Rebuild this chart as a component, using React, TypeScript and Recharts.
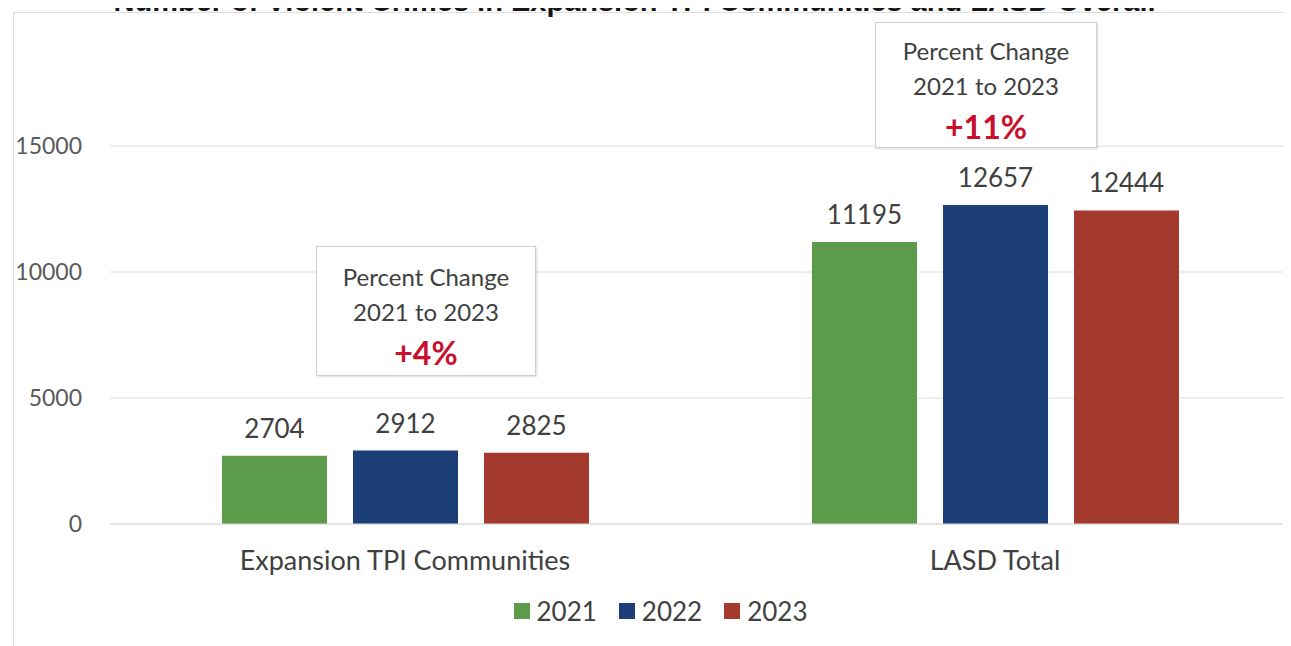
import React from "react";
import { Bar, BarChart, CartesianGrid, LabelList, Legend, XAxis, YAxis } from "recharts";

const CATEGORIES = ["Expansion TPI Communities", "LASD Total"];
const YEARS = ["2021", "2022", "2023"];
const CRIMES_2021 = [2704, 11195];
const CRIMES_2022 = [2912, 12657];
const CRIMES_2023 = [2825, 12444];
const Y_TICKS = [0, 5000, 10000, 15000];
const PCT_CHANGE = ["+4%", "+11%"];

const COLORS = ["#5B9B49", "#1B3F76", "#A33A2D"];
const FONT = "Lato, 'Open Sans', sans-serif";
const GRID = "#dcdcdc";
const TEXT = "#404040";

const data = CATEGORIES.map((name, i) => ({
  name,
  y2021: CRIMES_2021[i],
  y2022: CRIMES_2022[i],
  y2023: CRIMES_2023[i],
}));

function LegendContent() {
  return (
    <div
      style={{
        height: 40,
        display: "flex",
        justifyContent: "center",
        alignItems: "center",
        gap: 22,
        fontFamily: FONT,
        fontSize: 26,
        color: TEXT,
      }}
    >
      {YEARS.map((y, i) => (
        <div key={y} style={{ display: "flex", alignItems: "center", gap: 7 }}>
          <span style={{ width: 16, height: 16, background: COLORS[i], display: "inline-block" }} />
          <span>{y}</span>
        </div>
      ))}
    </div>
  );
}

function ChangeBox({
  left,
  top,
  width,
  height,
  pad,
  pct,
}: {
  left: number;
  top: number;
  width: number;
  height: number;
  pad: number;
  pct: string;
}) {
  return (
    <div
      style={{
        position: "absolute",
        left,
        top,
        width,
        height,
        boxSizing: "border-box",
        border: "1px solid #cfcfcf",
        boxShadow: "1px 1px 2px rgba(0,0,0,0.15)",
        background: "#fff",
        fontFamily: FONT,
        color: TEXT,
        textAlign: "center",
        fontSize: 24,
        lineHeight: "35px",
        paddingTop: pad,
      }}
    >
      <div>Percent Change</div>
      <div>2021 to 2023</div>
      <div style={{ color: "#C8102E", fontWeight: 700, fontSize: 32, lineHeight: "48px" }}>{pct}</div>
    </div>
  );
}

export default function App() {
  return (
    <div style={{ position: "relative", width: 1283, height: 638 }}>
      <div
        style={{
          position: "absolute",
          left: 5,
          top: 4,
          width: 1290,
          height: 640,
          border: "1px solid #dedede",
          boxSizing: "border-box",
        }}
      />
      <BarChart
        width={1283}
        height={638}
        data={data}
        margin={{ top: 12, right: 1, bottom: 15, left: 0 }}
        barSize={105}
        barGap={26}
        style={{ position: "absolute", left: 0, top: 0 }}
      >
        <CartesianGrid stroke={GRID} vertical={false} horizontalValues={Y_TICKS} />
        <XAxis
          dataKey="name"
          height={67}
          tickSize={0}
          tickMargin={27}
          axisLine={{ stroke: GRID }}
          tick={{ fontSize: 27, fill: TEXT, fontFamily: FONT }}
        />
        <YAxis
          width={102}
          domain={[0, 20000]}
          ticks={Y_TICKS}
          tickSize={0}
          tickMargin={28}
          axisLine={false}
          tick={{ fontSize: 23, fill: "#595959", fontFamily: FONT }}
        />
        <Legend
          verticalAlign="bottom"
          content={() => <LegendContent />}
          wrapperStyle={{ left: 11, width: 1283 }}
        />
        {(["y2021", "y2022", "y2023"] as const).map((key, i) => (
          <Bar key={key} dataKey={key} name={YEARS[i]} fill={COLORS[i]} isAnimationActive={false}>
            <LabelList
              dataKey={key}
              position="top"
              offset={18}
              style={{ fontSize: 26, fill: TEXT, fontFamily: FONT }}
            />
          </Bar>
        ))}
      </BarChart>
      {/* title sits mostly above the crop, as in the scanned original */}
      <div
        style={{
          position: "absolute",
          left: -8,
          top: -21,
          width: 1291,
          textAlign: "center",
          fontFamily: "'Liberation Sans', Arial, sans-serif",
          fontWeight: 700,
          fontSize: 29,
          lineHeight: "29px",
          color: "#151515",
          whiteSpace: "nowrap",
        }}
      >
        <span style={{ position: "relative", left: -11 }}>
          Number of Violent Crimes in Expansion TPI Communities and LASD Overall
        </span>
      </div>
      <ChangeBox left={308} top={238} width={220} height={130} pad={12} pct={PCT_CHANGE[0]} />
      <ChangeBox left={867} top={14} width={222} height={126} pad={10} pct={PCT_CHANGE[1]} />
    </div>
  );
}
